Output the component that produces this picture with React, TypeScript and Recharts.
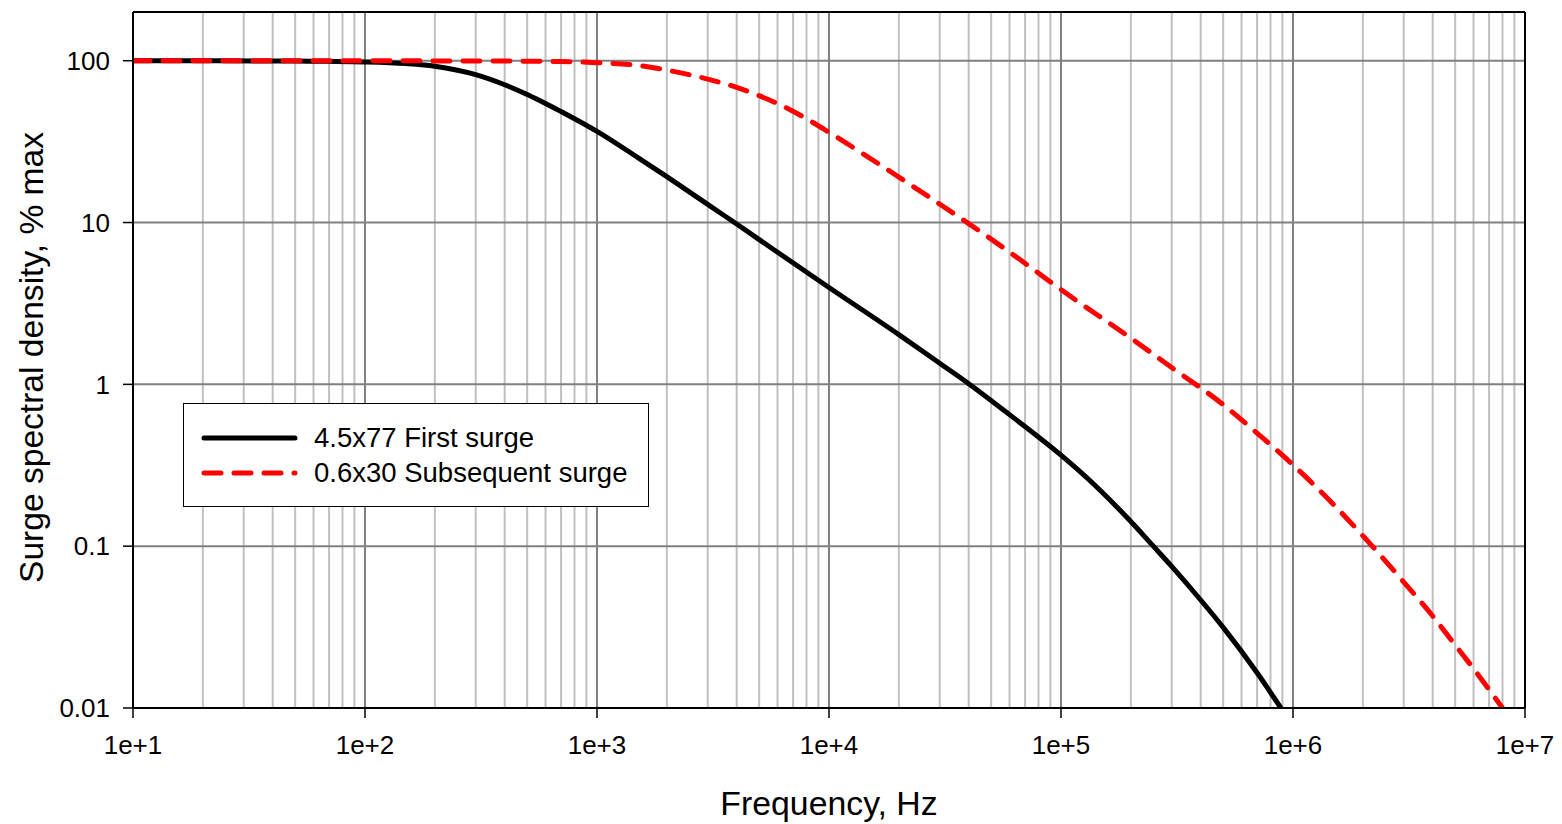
import React from 'react';
import { LineChart, Line, XAxis, YAxis, ReferenceLine, Legend, Label } from 'recharts';

const FONT = '"Liberation Sans", Arial, Helvetica, sans-serif';

// Frequency (Hz) / spectral density (% max)
const firstFreq = [10, 20, 50, 70, 100, 150, 200, 300, 400, 500, 600, 700, 800, 1000, 1500, 2000, 3000, 4000, 6000, 10000, 20000, 30000, 40000, 60000, 100000, 140000, 200000, 250000, 300000, 400000, 500000, 700000, 887000];
const firstVal = [100, 99.9, 99.5, 99.1, 98.3, 96.0, 92.5, 82.0, 71.0, 61.8, 54.4, 48.5, 43.8, 36.6, 25.2, 19.2, 12.95, 9.8, 6.55, 3.97, 2.03, 1.35, 1.01, 0.65, 0.365, 0.238, 0.142, 0.1, 0.075, 0.0465, 0.0315, 0.0165, 0.01];

const subsFreq = [10, 100, 300, 500, 700, 1000, 1500, 2000, 3000, 4000, 5000, 6000, 8000, 10000, 20000, 30000, 40000, 50000, 70000, 100000, 200000, 300000, 500000, 700000, 1000000, 1500000, 2000000, 3000000, 4000000, 5000000, 6000000, 7000000, 8000000];
const subsVal = [100, 99.9, 99.6, 99.3, 98.8, 97.3, 93.5, 87.5, 77, 68.4, 60.8, 54.3, 43.8, 36.1, 19.1, 13.0, 9.85, 7.9, 5.6, 3.85, 1.93, 1.27, 0.75, 0.5, 0.318, 0.18, 0.116, 0.06, 0.037, 0.0245, 0.0175, 0.013, 0.01];

const seriesNames = ['4.5x77 First surge', '0.6x30 Subsequent surge'];

const xTicks = [1e1, 1e2, 1e3, 1e4, 1e5, 1e6, 1e7];
const yTicks = [0.01, 0.1, 1, 10, 100];
const xMajorGrid = [1e2, 1e3, 1e4, 1e5, 1e6];
const yMajorGrid = [0.1, 1, 10, 100];
const minorMultipliers = [2, 3, 4, 5, 6, 7, 8, 9];
const decades = [1e1, 1e2, 1e3, 1e4, 1e5, 1e6];

const firstData = firstFreq.map((f, i) => ({ f, v: firstVal[i] }));
const subsData = subsFreq.map((f, i) => ({ f, v: subsVal[i] }));
const xMinorGrid: number[] = [];
decades.forEach((d) => minorMultipliers.forEach((m) => xMinorGrid.push(d * m)));

const DASH = '17 13';

const LegendBox = () => (
  <div
    style={{
      position: 'absolute',
      left: 183,
      top: 403,
      width: 466,
      height: 104,
      boxSizing: 'border-box',
      border: '1.5px solid #000',
      background: '#fff',
      fontFamily: FONT,
      fontSize: 27.5,
      color: '#000',
    }}
  >
    {[0, 1].map((i) => (
      <div key={i} style={{ position: 'absolute', left: 0, top: i === 0 ? 17 : 52, height: 34, width: '100%' }}>
        <svg width={120} height={34} style={{ position: 'absolute', left: 0, top: 0 }}>
          <line
            x1={20}
            x2={111}
            y1={17}
            y2={17}
            stroke={i === 0 ? '#000' : '#ff0000'}
            strokeWidth={5}
            strokeLinecap="round"
            strokeDasharray={i === 0 ? undefined : DASH}
          />
        </svg>
        <span style={{ position: 'absolute', left: 130, top: 0, lineHeight: '34px', whiteSpace: 'nowrap' }}>
          {seriesNames[i]}
        </span>
      </div>
    ))}
  </div>
);

export default function App() {
  return (
    <div style={{ position: 'absolute', left: 0, top: 0, width: 1562, height: 824, background: '#fff' }}>
      <LineChart width={1562} height={824} margin={{ top: 12, right: 37, left: 0, bottom: 0 }}>
        <XAxis
          dataKey="f"
          type="number"
          scale="log"
          domain={[10, 1e7]}
          ticks={xTicks}
          allowDataOverflow
          height={116}
          tickSize={10}
          tickMargin={18}
          interval={0}
          axisLine={{ stroke: '#000', strokeWidth: 2 }}
          tickLine={{ stroke: '#000', strokeWidth: 1.5 }}
          tick={{ fill: '#000', fontSize: 26, fontFamily: FONT }}
          tickFormatter={(v: number) => '1e+' + Math.round(Math.log10(v))}
        >
          <Label
            content={(props: any) => {
              const vb = props.viewBox || { x: 133, y: 708, width: 1392 };
              return (
                <text x={vb.x + vb.width / 2} y={vb.y + 107} textAnchor="middle" fill="#000" fontSize={33.8} fontFamily={FONT}>
                  Frequency, Hz
                </text>
              );
            }}
          />
        </XAxis>
        <YAxis
          dataKey="v"
          type="number"
          scale="log"
          domain={[0.01, 200]}
          ticks={yTicks}
          allowDataOverflow
          width={133}
          tickSize={10}
          tickMargin={13}
          interval={0}
          axisLine={{ stroke: '#000', strokeWidth: 2 }}
          tickLine={{ stroke: '#000', strokeWidth: 1.5 }}
          tick={{ fill: '#000', fontSize: 26, fontFamily: FONT }}
          tickFormatter={(v: number) => String(v)}
        >
          <Label
            content={(props: any) => {
              const vb = props.viewBox || { x: 0, y: 12, height: 696 };
              const cx = vb.x + 43;
              const cy = 357.5;
              return (
                <text x={cx} y={cy} transform={`rotate(-90 ${cx} ${cy})`} textAnchor="middle" fill="#000" fontSize={33.6} fontFamily={FONT}>
                  Surge spectral density, % max
                </text>
              );
            }}
          />
        </YAxis>
        {xMinorGrid.map((x) => (
          <ReferenceLine key={'mx' + x} x={x} stroke="#c0c0c0" strokeWidth={2} />
        ))}
        {xMajorGrid.map((x) => (
          <ReferenceLine key={'Mx' + x} x={x} stroke="#808080" strokeWidth={2} />
        ))}
        {yMajorGrid.map((y) => (
          <ReferenceLine key={'My' + y} y={y} stroke="#808080" strokeWidth={2} />
        ))}
        <ReferenceLine y={200} stroke="#000" strokeWidth={2} />
        <ReferenceLine x={1e7} stroke="#000" strokeWidth={2} />
        <Line
          data={firstData}
          dataKey="v"
          name={seriesNames[0]}
          type="monotone"
          stroke="#000"
          strokeWidth={5}
          strokeLinecap="round"
          dot={false}
          activeDot={false}
          isAnimationActive={false}
        />
        <Line
          data={subsData}
          dataKey="v"
          name={seriesNames[1]}
          type="monotone"
          stroke="#ff0000"
          strokeWidth={5}
          strokeLinecap="round"
          strokeDasharray={DASH}
          dot={false}
          activeDot={false}
          isAnimationActive={false}
        />
        <Legend content={() => <LegendBox />} wrapperStyle={{ position: 'absolute', left: 0, top: 0, width: 0, height: 0 }} />
      </LineChart>
    </div>
  );
}
